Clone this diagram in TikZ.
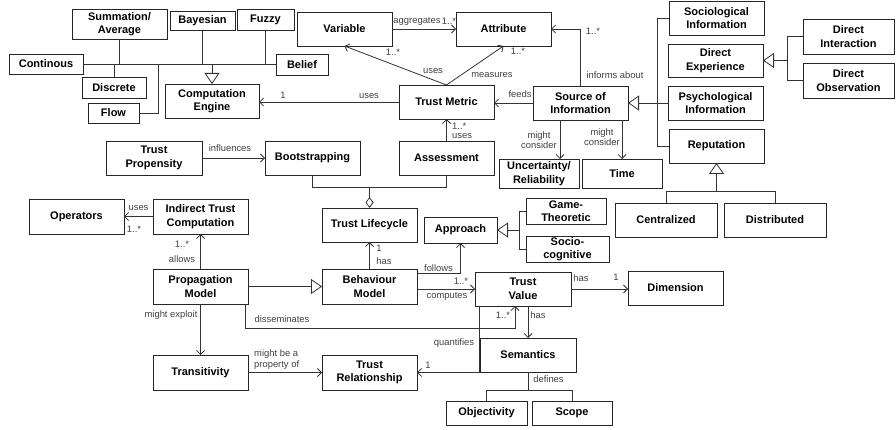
\documentclass[tikz,border=0pt]{standalone}
\usepackage{fontspec}
\setmainfont{Liberation Sans}
\usetikzlibrary{arrows.meta,calc}
\newcommand{\ubx}[6]{\node[ubox, minimum width={(#4)-(#2)}, minimum height={(#5)-(#3)}] (#1) at ({((#2)+(#4))/2},{((#3)+(#5))/2}) {#6};}
\begin{document}
\begin{tikzpicture}[x=1pt,y=-1pt,
 ubox/.style={draw=black!85, line width=0.9pt, fill=white, inner sep=0pt, outer sep=0pt, align=center, font=\fontsize{11}{13.5}\selectfont\bfseries},
 lbl/.style={font=\fontsize{9.4}{10.5}\selectfont, text=black!75, inner sep=0pt, align=center},
 conn/.style={draw=black!80, line width=0.8pt},
 arr/.style={conn, -{Straight Barb[length=4pt,width=8pt]}},
 inh/.style={conn, -{Triangle[open,length=11pt,width=15pt,fill=white]}},
 agg/.style={conn, {Diamond[open,length=11pt,width=8pt,fill=white]}-},
]
\useasboundingbox (0,0) rectangle (896,430);
% boxes
\ubx{sum}{72}{9}{167}{39}{Summation/\\Average}
\ubx{bay}{170}{11}{235}{30}{Bayesian}
\ubx{fuz}{237}{9}{294}{30}{Fuzzy}
\ubx{var}{297}{12}{392}{46}{Variable}
\ubx{att}{456}{12}{551}{46}{Attribute}
\ubx{con}{9}{54}{83}{74}{Continous}
\ubx{bel}{276}{54}{328}{75}{Belief}
\ubx{dis}{82}{77}{146}{98}{Discrete}
\ubx{flo}{88}{103}{139}{123}{Flow}
\ubx{ce}{165}{84}{259}{118}{Computation\\Engine}
\ubx{tm}{399}{85}{494}{119}{Trust Metric}
\ubx{src}{533}{86}{628}{120}{Source of\\Information}
\ubx{unc}{499}{159}{579}{188}{Uncertainty/\\Reliability}
\ubx{time}{582}{159}{662}{188}{Time}
\ubx{soc}{669}{1}{764}{35}{Sociological\\Information}
\ubx{dexp}{668}{44}{763}{77}{Direct\\Experience}
\ubx{psy}{668}{86}{763}{120}{Psychological\\Information}
\ubx{rep}{669}{129}{764}{163}{Reputation}
\ubx{dint}{803}{19}{894}{54}{Direct\\Interaction}
\ubx{dobs}{803}{63}{894}{98}{Direct\\Observation}
\ubx{cen}{615}{203}{717}{237}{Centralized}
\ubx{dist}{724}{203}{826}{237}{Distributed}
\ubx{tp}{106}{141}{202}{175}{Trust\\Propensity}
\ubx{boot}{265}{141}{360}{175}{Bootstrapping}
\ubx{ass}{399}{141}{494}{175}{Assessment}
\ubx{op}{29}{199}{124}{234}{Operators}
\ubx{itc}{153}{199}{248}{234}{Indirect Trust\\Computation}
\ubx{tl}{322}{208}{417}{242}{Trust Lifecycle}
\ubx{app}{424}{217}{497}{243}{Approach}
\ubx{gt}{526}{198}{606}{224}{Game-\\Theoretic}
\ubx{sc}{526}{236}{609}{262}{Socio-\\cognitive}
\ubx{pm}{153}{269}{248}{304}{Propagation\\Model}
\ubx{bm}{322}{269}{417}{304}{Behaviour\\Model}
\ubx{tv}{475}{272}{571}{306}{Trust\\Value}
\ubx{dim}{628}{271}{723}{305}{Dimension}
\ubx{sem}{480}{338}{576}{372}{Semantics}
\ubx{tr}{322}{355}{417}{390}{Trust\\Relationship}
\ubx{tra}{153}{355}{248}{390}{Transitivity}
\ubx{obj}{446}{401}{527}{425}{Objectivity}
\ubx{scp}{532}{401}{612}{425}{Scope}
% computation engine hierarchy
\draw[conn] (con.east) -- (con.east -| bel.west);
\draw[conn] (sum.south) -- (sum.south |- con.east);
\draw[conn] (bay.south) -- (bay.south |- con.east);
\draw[conn] (fuz.south) -- (fuz.south |- con.east);
\draw[conn] (dis.north) -- (dis.north |- con.east);
\coordinate (flb) at (158,64);
\draw[conn] (flo.east) -| (flb);
\draw[inh] (ce.north |- con.east) -- (ce.north);
% metric
\draw[arr] (var.east) -- (att.west);
\draw[arr] (tm.north) -- (var.south);
\draw[arr] (tm.north) -- (att.south);
\draw[arr] (tm.west) -- (tm.west -| ce.east);
\draw[arr] (src.west) -- (src.west -| tm.east);
\draw[arr] (src.north) |- (att.east);
\coordinate (u1) at ([xshift=27pt]src.south west);
\draw[arr] (u1) -- (u1 |- unc.north);
\draw[arr] (src.south -| time.north) -- (time.north);
% source generalisation
\coordinate (b2) at (657,103);
\draw[conn] (soc.west) -- (soc.west -| b2) -- (rep.west -| b2) -- (rep.west);
\draw[conn] (psy.west) -- (psy.west -| b2);
\draw[inh] (src.east -| b2) -- (src.east);
\coordinate (b3) at (787,0);
\draw[conn] (dint.west) -- (dint.west -| b3) -- (dobs.west -| b3) -- (dobs.west);
\draw[inh] (dexp.east -| b3) -- (dexp.east);
\coordinate (b4) at (0,191);
\draw[conn] (cen.north) -- (cen.north |- b4) -- (dist.north |- b4) -- (dist.north);
\draw[inh] (rep.south |- b4) -- (rep.south);
% lifecycle
\draw[arr] (tp.east) -- (boot.west);
\draw[arr] (ass.north) -- (tm.south);
\coordinate (ag) at (369.5,187);
\draw[conn] (boot.south) -- (boot.south |- ag) -- (ass.south |- ag) -- (ass.south);
\draw[agg] (tl.north) -- (tl.north |- ag);
\draw[arr] (itc.west) -- (op.east);
\draw[arr] (pm.north) -- (itc.south);
\draw[inh] (pm.east) -- (bm.west);
\draw[arr] (bm.north) -- (tl.south);
\draw[arr] ([yshift=13.5pt]bm.east) -| (app.south);
\draw[arr] (bm.east |- tv.west) -- (tv.west);
\draw[arr] (tv.east) -- (tv.east -| dim.west);
\coordinate (d1) at ([xshift=-3pt]pm.south east);
\coordinate (d2) at ([xshift=40pt]tv.south west);
\draw[arr] (d1) -- ++(0,24) -| (d2);
\draw[arr] (sem.north |- tv.south) -- (sem.north);
\coordinate (q1) at ([xshift=4pt]tv.south west);
\draw[arr] (q1) |- (tr.east);
\draw[arr] (pm.south) -- (tra.north);
\draw[arr] (tra.east) -- (tr.west);
\coordinate (b5) at (0,390);
\draw[conn] (sem.south) -- (sem.south |- b5);
\draw[conn] (obj.north) -- (obj.north |- b5) -- (scp.north |- b5) -- (scp.north);
\coordinate (b6) at (519,0);
\draw[conn] (gt.west) -- (gt.west -| b6) -- (sc.west -| b6) -- (sc.west);
\draw[inh] (app.east -| b6) -- (app.east);
% labels
\node[lbl] (l1) at (417,21) {aggregates};
\node[lbl] (l2) at (449,21) {1..*};
\node[lbl] (l3) at (393,52) {1..*};
\node[lbl] (l4) at (433,71) {uses};
\node[lbl] (l5) at (518,51) {1..*};
\node[lbl] (l6) at (492,75) {measures};
\node[lbl] (l7) at (369,96) {uses};
\node[lbl] (l8) at (283,95) {1};
\node[lbl] (l9) at (520,94) {feeds};
\node[lbl] (l10) at (593,31) {1..*};
\node[lbl] (l11) at (615,75) {informs about};
\node[lbl] (l12) at (539,140) {might\\consider};
\node[lbl] (l13) at (602,137) {might\\consider};
\node[lbl] (l14) at (230,148) {influences};
\node[lbl, anchor=west] (l15) at (452,126) {1..*};
\node[lbl, anchor=west] (l16) at (452,136) {uses};
\node[lbl] (l17) at (138.5,208) {uses};
\node[lbl] (l18) at (134,229) {1..*};
\node[lbl] (l19) at (182,244) {1..*};
\node[lbl] (l20) at (182,259) {allows};
\node[lbl] (l21) at (379,248) {1};
\node[lbl] (l22) at (384,261) {has};
\node[lbl] (l23) at (438.5,268) {follows};
\node[lbl] (l24) at (461,281) {1..*};
\node[lbl] (l25) at (447,296) {computes};
\node[lbl] (l26) at (581,278) {has};
\node[lbl] (l27) at (616,277) {1};
\node[lbl] (l28) at (282,319) {disseminates};
\node[lbl] (l29) at (503,315) {1..*};
\node[lbl] (l30) at (538,315) {has};
\node[lbl] (l31) at (454,343) {quantifies};
\node[lbl] (l32) at (428,365) {1};
\node[lbl] (l33) at (171,315) {might exploit};
\node[lbl, anchor=west, align=left] (l34) at (254,359.5) {might be a\\property of};
\node[lbl] (l35) at (548.5,379) {defines};
\end{tikzpicture}
\end{document}
